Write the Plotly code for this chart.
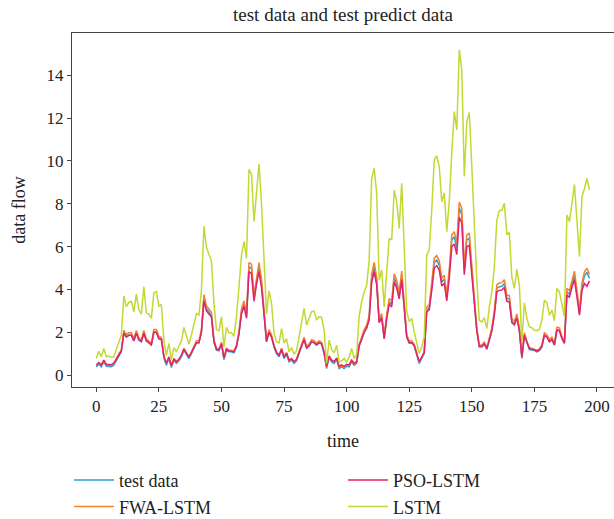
import plotly.graph_objects as go

# values (time steps 0..197)
test_data = [
    0.39, 0.51, 0.39, 0.62, 0.42, 0.42, 0.40, 0.47, 0.70, 0.93,
    1.09, 1.98, 1.79, 1.87, 1.87, 1.60, 1.98, 1.64, 1.56, 1.98,
    1.60, 1.51, 1.40, 2.02, 2.02, 1.71, 1.67, 0.82, 0.47, 0.78,
    0.36, 0.70, 0.55, 0.67, 0.86, 1.17, 0.98, 0.78, 1.01, 1.25,
    1.51, 1.51, 2.02, 3.60, 3.10, 2.95, 2.80, 1.56, 1.17, 1.14,
    1.45, 0.73, 1.17, 1.09, 1.09, 1.05, 1.32, 1.95, 2.96, 3.32,
    2.73, 5.06, 4.98, 3.58, 4.44, 5.06, 4.28, 2.80, 1.56, 2.02,
    1.79, 1.32, 1.01, 0.86, 1.17, 0.78, 0.98, 0.62, 0.70, 0.55,
    0.67, 1.01, 1.32, 1.67, 1.25, 1.36, 1.56, 1.51, 1.40, 1.51,
    1.45, 1.01, 0.31, 0.83, 0.62, 0.55, 0.73, 0.31, 0.39, 0.31,
    0.42, 0.39, 0.62, 0.47, 0.55, 1.36, 1.67, 2.02, 2.23, 2.65,
    4.52, 5.06, 4.40, 2.50, 2.75, 1.71, 2.70, 3.43, 3.30, 4.55,
    4.25, 3.70, 4.67, 3.19, 1.79, 1.50, 1.51, 1.36, 0.97, 0.55,
    0.78, 1.01, 3.04, 3.15, 4.13, 5.25, 5.37, 5.14, 4.35, 4.48,
    3.60, 4.75, 6.31, 6.46, 5.92, 7.80, 7.50, 4.91, 6.31, 6.39,
    4.91, 3.35, 2.10, 1.32, 1.32, 1.45, 1.20, 1.64, 2.10, 2.88,
    4.05, 4.13, 4.15, 4.28, 3.58, 3.55, 2.50, 2.40, 2.73, 2.10,
    0.78, 1.87, 1.48, 1.20, 1.17, 1.15, 1.09, 1.15, 1.32, 1.87,
    1.79, 1.56, 1.67, 1.40, 2.13, 2.10, 1.71, 1.48, 3.89, 3.78,
    4.28, 4.67, 3.80, 2.88, 4.13, 4.63, 4.80, 4.52,
]

fwa_lstm = [
    0.45, 0.58, 0.45, 0.69, 0.48, 0.48, 0.46, 0.53, 0.77, 1.01,
    1.17, 2.09, 1.89, 1.98, 1.98, 1.70, 2.09, 1.74, 1.66, 2.09,
    1.70, 1.61, 1.49, 2.13, 2.13, 1.81, 1.77, 0.89, 0.53, 0.85,
    0.42, 0.77, 0.62, 0.74, 0.94, 1.26, 1.06, 0.85, 1.09, 1.34,
    1.61, 1.61, 2.13, 3.76, 3.24, 3.09, 2.93, 1.66, 1.26, 1.22,
    1.54, 0.80, 1.26, 1.17, 1.17, 1.13, 1.41, 2.06, 3.10, 3.47,
    2.86, 5.26, 5.18, 3.74, 4.62, 5.26, 4.46, 2.93, 1.66, 2.13,
    1.89, 1.41, 1.09, 0.94, 1.26, 0.85, 1.06, 0.69, 0.77, 0.62,
    0.74, 1.09, 1.41, 1.77, 1.34, 1.45, 1.66, 1.61, 1.49, 1.61,
    1.54, 1.09, 0.37, 0.90, 0.69, 0.62, 0.80, 0.37, 0.45, 0.37,
    0.48, 0.45, 0.69, 0.53, 0.62, 1.45, 1.77, 2.13, 2.35, 2.78,
    4.71, 5.26, 4.58, 2.63, 2.88, 1.81, 2.83, 3.58, 3.45, 4.74,
    4.43, 3.86, 4.86, 3.34, 1.89, 1.60, 1.61, 1.45, 1.05, 0.62,
    0.85, 1.09, 3.18, 3.29, 4.30, 5.46, 5.58, 5.34, 4.53, 4.66,
    3.76, 4.94, 6.55, 6.70, 6.15, 8.08, 7.78, 5.11, 6.55, 6.63,
    5.11, 3.50, 2.21, 1.41, 1.41, 1.54, 1.29, 1.74, 2.21, 3.02,
    4.22, 4.30, 4.32, 4.46, 3.74, 3.71, 2.63, 2.52, 2.86, 2.21,
    0.85, 1.98, 1.57, 1.29, 1.26, 1.23, 1.17, 1.23, 1.41, 1.98,
    1.89, 1.66, 1.77, 1.49, 2.24, 2.21, 1.81, 1.57, 4.06, 3.94,
    4.46, 4.86, 3.96, 3.02, 4.30, 4.82, 4.99, 4.71,
]

pso_lstm = [
    0.48, 0.59, 0.48, 0.70, 0.51, 0.51, 0.49, 0.56, 0.77, 0.98,
    1.13, 1.96, 1.78, 1.86, 1.86, 1.61, 1.96, 1.65, 1.57, 1.96,
    1.61, 1.52, 1.42, 2.00, 2.00, 1.71, 1.67, 0.88, 0.56, 0.85,
    0.45, 0.77, 0.63, 0.74, 0.92, 1.21, 1.03, 0.85, 1.06, 1.28,
    1.52, 1.52, 2.00, 3.47, 3.00, 2.86, 2.72, 1.57, 1.21, 1.18,
    1.47, 0.80, 1.21, 1.13, 1.13, 1.10, 1.35, 1.93, 2.87, 3.21,
    2.66, 4.83, 4.75, 3.45, 4.25, 4.83, 4.10, 2.72, 1.57, 2.00,
    1.78, 1.35, 1.06, 0.92, 1.21, 0.85, 1.03, 0.70, 0.77, 0.63,
    0.74, 1.06, 1.35, 1.67, 1.28, 1.38, 1.57, 1.52, 1.42, 1.52,
    1.47, 1.06, 0.41, 0.89, 0.70, 0.63, 0.80, 0.41, 0.48, 0.41,
    0.51, 0.48, 0.70, 0.56, 0.63, 1.38, 1.67, 2.00, 2.19, 2.58,
    4.32, 4.83, 4.21, 2.45, 2.68, 1.71, 2.63, 3.31, 3.19, 4.35,
    4.07, 3.56, 4.46, 3.09, 1.78, 1.52, 1.52, 1.38, 1.02, 0.63,
    0.85, 1.06, 2.95, 3.05, 3.96, 5.00, 5.11, 4.90, 4.17, 4.29,
    3.47, 4.54, 5.99, 6.13, 5.63, 7.37, 7.10, 4.69, 5.99, 6.06,
    4.69, 3.24, 2.07, 1.35, 1.35, 1.47, 1.24, 1.65, 2.07, 2.80,
    3.89, 3.96, 3.98, 4.10, 3.45, 3.42, 2.45, 2.35, 2.66, 2.07,
    0.85, 1.86, 1.50, 1.24, 1.21, 1.19, 1.13, 1.19, 1.35, 1.86,
    1.78, 1.57, 1.67, 1.42, 2.10, 2.07, 1.71, 1.50, 3.74, 3.64,
    4.10, 4.46, 3.65, 2.80, 3.96, 4.28, 4.15, 4.40,
]

lstm = [
    0.78, 1.12, 0.86, 1.25, 0.86, 0.89, 0.83, 0.85, 1.20, 1.50,
    1.87, 3.70, 3.20, 3.40, 3.45, 2.96, 3.78, 3.05, 2.85, 4.13,
    2.90, 2.85, 2.65, 3.85, 3.90, 3.22, 3.30, 1.60, 0.93, 1.48,
    0.73, 1.29, 1.09, 1.36, 1.60, 2.23, 1.79, 1.45, 1.87, 2.41,
    2.88, 2.80, 3.97, 6.96, 5.97, 5.65, 5.34, 3.35, 2.13, 2.07,
    2.73, 1.32, 2.23, 1.98, 1.98, 1.82, 2.73, 4.13, 5.60, 6.23,
    5.45, 9.61, 9.39, 7.17, 8.64, 9.86, 8.00, 5.53, 2.85, 3.94,
    3.35, 1.95, 1.56, 1.51, 2.17, 1.51, 1.71, 1.09, 1.29, 0.98,
    1.14, 1.79, 2.41, 3.12, 2.34, 2.65, 2.96, 3.00, 2.57, 2.73,
    2.70, 2.10, 0.55, 1.64, 1.20, 1.04, 1.40, 0.62, 0.67, 0.78,
    0.62, 0.83, 1.25, 0.78, 0.98, 2.73, 3.43, 3.89, 4.20, 5.37,
    9.19, 9.66, 8.49, 4.44, 4.91, 3.19, 4.80, 6.39, 6.31, 8.64,
    8.10, 6.85, 8.96, 5.60, 3.00, 2.50, 2.65, 2.02, 1.48, 1.01,
    1.32, 1.79, 5.60, 5.84, 7.71, 10.05, 10.23, 9.74, 8.10, 8.50,
    6.70, 8.10, 10.40, 12.30, 11.45, 15.20, 14.25, 9.27, 11.84, 12.26,
    9.74, 6.90, 4.44, 2.57, 2.49, 2.69, 2.18, 3.19, 3.89, 5.06,
    7.24, 7.68, 7.70, 8.02, 6.59, 6.65, 4.56, 4.05, 4.94, 4.20,
    1.55, 3.38, 2.65, 2.26, 2.21, 2.10, 2.08, 2.15, 2.57, 3.50,
    3.38, 2.80, 3.04, 2.54, 4.05, 3.89, 3.35, 2.73, 7.48, 7.17,
    8.02, 8.90, 7.20, 5.53, 8.33, 8.70, 9.19, 8.64,
]

time = list(range(len(test_data)))
x_ticks = [0, 25, 50, 75, 100, 125, 150, 175, 200]
y_ticks = [0, 2, 4, 6, 8, 10, 12, 14]

FONT = "Liberation Serif, Times New Roman, serif"

# name, values, colour, legend column
series = [
    ("test data", test_data, "#2c9fd8", "legend"),
    ("FWA-LSTM", fwa_lstm, "#f5822b", "legend"),
    ("PSO-LSTM", pso_lstm, "#e3226e", "legend2"),
    ("LSTM", lstm, "#c4d832", "legend2"),
]

fig = go.Figure()
for name, values, color, leg in series:
    fig.add_trace(
        go.Scatter(
            x=time, y=values, mode="lines", name=name,
            line=dict(color=color, width=1.5),
            legend=leg,
        )
    )

legend_style = dict(
    orientation="v",
    xanchor="left",
    yref="container", y=0.11, yanchor="top",
    font=dict(family=FONT, size=18, color="#222"),
    itemwidth=40,
    bgcolor="rgba(0,0,0,0)",
)

fig.update_layout(
    width=614,
    height=519,
    paper_bgcolor="white",
    plot_bgcolor="white",
    font=dict(family=FONT, size=17, color="#222"),
    title=dict(
        text="test data and test predict data",
        x=0.5, xref="paper", y=0.972, yanchor="middle",
        font=dict(family=FONT, size=19, color="#222"),
    ),
    margin=dict(l=72, r=0, t=33, b=132),
    showlegend=True,
    legend=dict(x=-0.0055, **legend_style),
    legend2=dict(x=0.5, **legend_style),
    xaxis=dict(
        range=[-9.7, 206.8],
        tickvals=x_ticks,
        showgrid=False, zeroline=False,
        showline=True, linecolor="#444", linewidth=1, mirror=True,
        ticks="outside", ticklen=4, tickcolor="#444",
        title=dict(text="time", font=dict(family=FONT, size=18), standoff=18),
    ),
    yaxis=dict(
        range=[-0.55, 15.97],
        tickvals=y_ticks,
        showgrid=False, zeroline=False,
        showline=True, linecolor="#444", linewidth=1,
        ticks="outside", ticklen=4, tickcolor="#444",
        title=dict(text="data flow", font=dict(family=FONT, size=18), standoff=16),
    ),
)

fig.write_html(
    "out.html",
    config={"displayModeBar": False},
    post_script="document.body.style.margin = '0';",
)
